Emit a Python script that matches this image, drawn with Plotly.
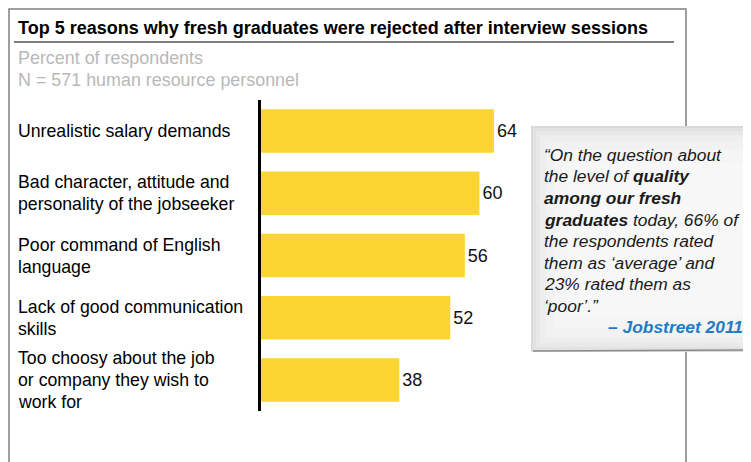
import plotly.graph_objects as go

# page is rendered with the default 8px body margin, so the figure is sized to
# end exactly at the window edge and all positions below are in page pixels
PAGE_W, PAGE_H = 751, 462
OFF = 8
W, H = PAGE_W - OFF, PAGE_H - OFF

TITLE = "Top 5 reasons why fresh graduates were rejected after interview sessions"
SUBTITLE = ["Percent of respondents", "N = 571 human resource personnel"]
REASONS = [
    ["Unrealistic salary demands"],
    ["Bad character, attitude and", "personality of the jobseeker"],
    ["Poor command of English", "language"],
    ["Lack of good communication", "skills"],
    ["Too choosy about the job", "or company they wish to", "work for"],
]
PERCENT = [64, 60, 56, 52, 38]
QUOTE_LINES = [
    "“On the question about",
    "the level of <b>quality</b>",
    "<b>among our fresh</b>",
    "<b>graduates</b> today, 66% of",
    "the respondents rated",
    "them as ‘average’ and",
    "23% rated them as",
    "‘poor’.”",
]
QUOTE_SOURCE = "– Jobstreet 2011"

FONT = "Liberation Sans, Arial, sans-serif"
YELLOW = "#FDD532"


def px_x(x):
    return (x - OFF) / W


def px_y(y):
    return 1 - (y - OFF) / H


fig = go.Figure(
    go.Bar(
        x=PERCENT,
        y=list(range(len(PERCENT))),
        orientation="h",
        marker=dict(color=YELLOW, line=dict(width=0)),
        width=0.7,
        text=[str(v) for v in PERCENT],
        textposition="outside",
        textfont=dict(family=FONT, size=18, color="#111111"),
        cliponaxis=False,
        hoverinfo="skip",
    )
)

px_per_unit = 3.64
axis_x, axis_top, axis_bottom = 261, 100, 411
fig.update_xaxes(
    domain=[px_x(axis_x), 1],
    range=[0, (PAGE_W - axis_x) / px_per_unit],
    visible=False,
)
fig.update_yaxes(
    domain=[px_y(axis_bottom), px_y(axis_top)],
    range=[len(PERCENT) - 0.5, -0.5],
    showticklabels=False,
    showgrid=False,
    zeroline=False,
    showline=True,
    linecolor="#000000",
    linewidth=2.5,
    ticks="",
)

shapes = [
    # outer frame
    dict(type="rect", xref="paper", yref="paper",
         x0=px_x(9), x1=px_x(686), y0=px_y(PAGE_H + 20), y1=px_y(9),
         line=dict(color="#808080", width=1.5), fillcolor="rgba(0,0,0,0)", layer="below"),
    # title underline
    dict(type="line", xref="paper", yref="paper",
         x0=px_x(14), x1=px_x(674), y0=px_y(42), y1=px_y(42),
         line=dict(color="#555555", width=1.5)),
]

# quote card, soft grey gradient faked with nested rectangles
card = (531, 126, 820, 352)
for inset, col in [(0, "#dadada"), (2, "#e2e2e2"), (5, "#e8e8e8"), (9, "#eeeeee"),
                   (15, "#f2f2f2"), (24, "#f5f5f5"), (36, "#f7f7f7")]:
    shapes.append(dict(
        type="rect", xref="paper", yref="paper",
        x0=px_x(card[0] + inset), x1=px_x(card[2] - inset),
        y0=px_y(card[3] - inset), y1=px_y(card[1] + inset),
        line=dict(width=0), fillcolor=col, layer="above",
    ))
shapes.append(dict(type="line", xref="paper", yref="paper",
                   x0=px_x(card[0] + 2), x1=px_x(PAGE_W), y0=px_y(card[3] - 1), y1=px_y(card[3] - 2),
                   line=dict(color="#8c8c8c", width=1.5), layer="above"))

annotations = [
    dict(text=f"<b>{TITLE}</b>", xref="paper", yref="paper",
         x=px_x(16), y=px_y(28), xanchor="left", yanchor="middle",
         showarrow=False, font=dict(family=FONT, size=18, color="#000000")),
]
for k, line in enumerate(SUBTITLE):
    annotations.append(dict(
        text=line, xref="paper", yref="paper",
        x=px_x(16), y=px_y(58 + 22 * k), xanchor="left", yanchor="middle",
        showarrow=False, font=dict(family=FONT, size=17.9, color="#b8b8b8"),
    ))

quote_top, quote_step = 155, 21.5
for k, line in enumerate(QUOTE_LINES):
    annotations.append(dict(
        text=f"<i>{line}</i>", xref="paper", yref="paper",
        x=px_x(542), y=px_y(quote_top + quote_step * k), xanchor="left", yanchor="middle",
        showarrow=False, font=dict(family=FONT, size=17.4, color="#1a1a1a"),
    ))
annotations.append(dict(
    text=f"<b><i>{QUOTE_SOURCE}</i></b>", xref="paper", yref="paper",
    x=px_x(745), y=px_y(quote_top + quote_step * len(QUOTE_LINES)),
    xanchor="right", yanchor="middle",
    showarrow=False, font=dict(family=FONT, size=17.4, color="#1f7bc4"),
))

unit_px = (axis_bottom - axis_top) / len(PERCENT)
label_step = 22
for i, lines in enumerate(REASONS):
    for k, line in enumerate(lines):
        offset = (k - (len(lines) - 1) / 2) * label_step / unit_px
        annotations.append(dict(
            text=line, xref="paper", yref="y",
            x=px_x(16), y=i + offset, xanchor="left", yanchor="middle",
            showarrow=False, font=dict(family=FONT, size=17.7, color="#000000"),
        ))

fig.update_layout(
    width=W,
    height=H,
    margin=dict(l=0, r=0, t=0, b=0),
    paper_bgcolor="#ffffff",
    plot_bgcolor="rgba(0,0,0,0)",
    showlegend=False,
    shapes=shapes,
    annotations=annotations,
)

fig.write_html("out.html")
